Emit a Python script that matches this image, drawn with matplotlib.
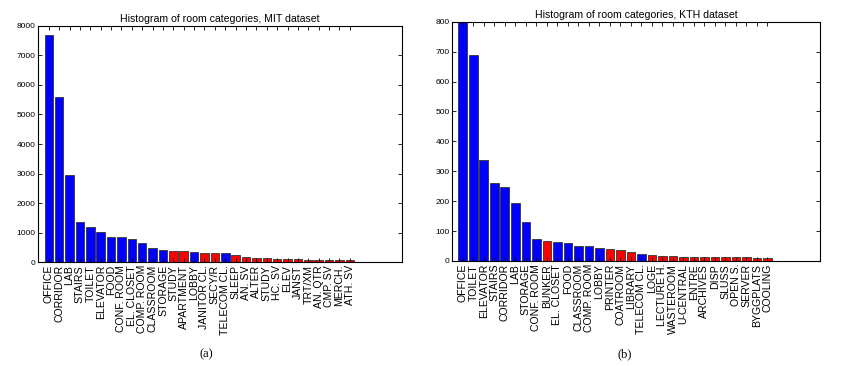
import matplotlib
matplotlib.use('Agg')
import matplotlib.pyplot as plt
import numpy as np

# MIT dataset
mit_labels = ['OFFICE', 'CORRIDOR', 'LAB', 'STAIRS', 'TOILET', 'ELEVATOR', 'FOOD',
              'CONF. ROOM', 'EL. CLOSET', 'COMP. ROOM', 'CLASSROOM', 'STORAGE', 'STUDY',
              'APARTMENT', 'LOBBY', 'JANITOR CL.', 'SECY/R', 'TELECOM CL.', 'SLEEP',
              'AN. SV', 'ALTER', 'STUDY', 'HC. SV', 'ELEV', 'JANST', 'TRT/XM', 'AN. QTR',
              'CMP. SV', 'MERCH.', 'ATH. SV']
mit_values = [7670, 5600, 2950, 1350, 1200, 1025, 870, 845, 790, 640, 490, 430, 390,
              380, 360, 330, 330, 330, 245, 190, 140, 130, 125, 120, 100, 90, 85, 85,
              80, 70]
mit_blue = [1, 1, 1, 1, 1, 1, 1, 1, 1, 1, 1, 1, 0, 0, 1, 0, 0, 1, 0, 0, 0, 0, 0, 0,
            0, 0, 0, 0, 0, 0]

# KTH dataset
kth_labels = ['OFFICE', 'TOILET', 'ELEVATOR', 'STAIRS', 'CORRIDOR', 'LAB', 'STORAGE',
              'CONF. ROOM', 'BUNKER', 'EL. CLOSET', 'FOOD', 'CLASSROOM', 'COMP. ROOM',
              'LOBBY', 'PRINTER', 'COATROOM', 'LIBRARY', 'TELECOM CL.', 'LOGE',
              'LECTURE H.', 'WASTEROOM', 'U-CENTRAL', 'ENTRE', 'ARCHIVES', 'DISP',
              'SLUSS', 'OPEN S.', 'SERVER', 'BYGGPLATS', 'COOLING']
kth_values = [820, 689, 338, 262, 246, 193, 129, 73, 68, 64, 59, 51, 49, 42, 39, 36,
              29, 25, 19, 17, 16, 15, 14, 13, 13, 13, 13, 12, 11, 10]
kth_blue = [1, 1, 1, 1, 1, 1, 1, 1, 0, 1, 1, 1, 1, 1, 0, 0, 0, 1, 0, 0, 0, 0, 0, 0,
            0, 0, 0, 0, 0, 0]

plt.rcParams['font.family'] = ['Liberation Sans', 'DejaVu Sans']

fig = plt.figure(figsize=(8.61, 3.66), dpi=100)
ax1 = fig.add_axes([0.0446, 0.2833, 0.422, 0.6464])
ax2 = fig.add_axes([0.5253, 0.2869, 0.427, 0.6538])


def draw(ax, labels, values, blue, ymax, step, title):
    x = np.arange(1, len(values) + 1)
    colors = ['#0000ff' if b else '#ff0000' for b in blue]
    ax.bar(x, values, width=0.82, color=colors, edgecolor='#333333', linewidth=0.6)
    ax.set_xlim(0, 35)
    ax.set_ylim(0, ymax)
    ax.set_xticks(x)
    ax.set_xticklabels(labels, rotation=90, fontsize=7.6)
    ax.set_yticks(np.arange(0, ymax + 1, step))
    ax.tick_params(axis='y', labelsize=6)
    ax.tick_params(direction='in', top=True, right=True, length=3, width=0.6, pad=2)
    ax.tick_params(axis='x', length=3, pad=2)
    for s in ax.spines.values():
        s.set_linewidth(0.8)
    ax.set_title(title, fontsize=7.6, pad=3)


draw(ax1, mit_labels, mit_values, mit_blue, 8000, 1000,
     'Histogram of room categories, MIT dataset')
draw(ax2, kth_labels, kth_values, kth_blue, 800, 100,
     'Histogram of room categories, KTH dataset')

fig.text(206 / 861, 1 - 354 / 366, '(a)', ha='center', va='center', fontsize=9,
         family='Liberation Serif')
fig.text(625 / 861, 1 - 354 / 366, '(b)', ha='center', va='center', fontsize=9,
         family='Liberation Serif')

fig.savefig('out.png', dpi=100)
